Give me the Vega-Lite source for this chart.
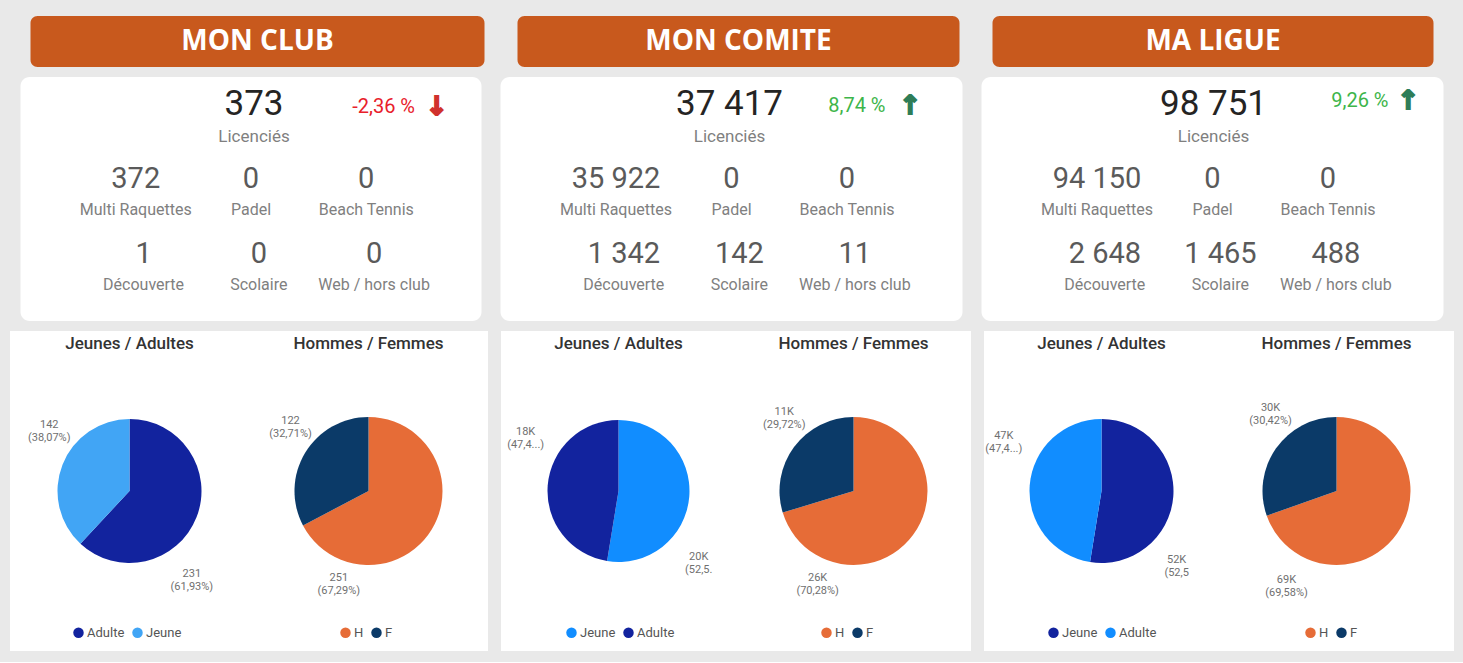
{
  "$schema": "https://vega.github.io/schema/vega-lite/v6.json",
  "background": "#E9E9E9",
  "padding": {"left": 10, "top": 16, "right": 9, "bottom": 11},
  "config": {
    "view": {"stroke": null},
    "font": "Roboto",
    "locale": {"number": {"decimal": ",", "thousands": " ", "grouping": [3], "currency": ["", " €"], "percent": " %", "minus": "-"}},
    "title": {"font": "Roboto", "fontSize": 17, "fontWeight": 500, "color": "#333333", "anchor": "middle", "offset": -22},
    "legend": {"title": null, "orient": "none", "direction": "horizontal", "symbolType": "circle", "symbolSize": 110, "labelFontSize": 13, "labelColor": "#555555", "labelFont": "Roboto", "columnPadding": 6, "labelOffset": 2, "symbolStrokeWidth": 0},
    "text": {"fontSize": 11, "color": "#707070", "lineBreak": "\n"}
  },
  "datasets": {
    "kpi": [
      {"niveau": "MON CLUB", "groupe": "Total", "indicateur": "Licenciés", "valeur": 373, "evolution": -0.0236},
      {"niveau": "MON CLUB", "groupe": "Pratique", "indicateur": "Multi Raquettes", "valeur": 372},
      {"niveau": "MON CLUB", "groupe": "Pratique", "indicateur": "Padel", "valeur": 0},
      {"niveau": "MON CLUB", "groupe": "Pratique", "indicateur": "Beach Tennis", "valeur": 0},
      {"niveau": "MON CLUB", "groupe": "Licence", "indicateur": "Découverte", "valeur": 1},
      {"niveau": "MON CLUB", "groupe": "Licence", "indicateur": "Scolaire", "valeur": 0},
      {"niveau": "MON CLUB", "groupe": "Licence", "indicateur": "Web / hors club", "valeur": 0},
      {"niveau": "MON COMITE", "groupe": "Total", "indicateur": "Licenciés", "valeur": 37417, "evolution": 0.0874},
      {"niveau": "MON COMITE", "groupe": "Pratique", "indicateur": "Multi Raquettes", "valeur": 35922},
      {"niveau": "MON COMITE", "groupe": "Pratique", "indicateur": "Padel", "valeur": 0},
      {"niveau": "MON COMITE", "groupe": "Pratique", "indicateur": "Beach Tennis", "valeur": 0},
      {"niveau": "MON COMITE", "groupe": "Licence", "indicateur": "Découverte", "valeur": 1342},
      {"niveau": "MON COMITE", "groupe": "Licence", "indicateur": "Scolaire", "valeur": 142},
      {"niveau": "MON COMITE", "groupe": "Licence", "indicateur": "Web / hors club", "valeur": 11},
      {"niveau": "MA LIGUE", "groupe": "Total", "indicateur": "Licenciés", "valeur": 98751, "evolution": 0.0926},
      {"niveau": "MA LIGUE", "groupe": "Pratique", "indicateur": "Multi Raquettes", "valeur": 94150},
      {"niveau": "MA LIGUE", "groupe": "Pratique", "indicateur": "Padel", "valeur": 0},
      {"niveau": "MA LIGUE", "groupe": "Pratique", "indicateur": "Beach Tennis", "valeur": 0},
      {"niveau": "MA LIGUE", "groupe": "Licence", "indicateur": "Découverte", "valeur": 2648},
      {"niveau": "MA LIGUE", "groupe": "Licence", "indicateur": "Scolaire", "valeur": 1465},
      {"niveau": "MA LIGUE", "groupe": "Licence", "indicateur": "Web / hors club", "valeur": 488}
    ],
    "repartition": [
      {"niveau": "MON CLUB", "graphique": "Jeunes / Adultes", "categorie": "Adulte", "valeur": 231, "etiquette": "231\n(61,93%)"},
      {"niveau": "MON CLUB", "graphique": "Jeunes / Adultes", "categorie": "Jeune", "valeur": 142, "etiquette": "142\n(38,07%)"},
      {"niveau": "MON CLUB", "graphique": "Hommes / Femmes", "categorie": "H", "valeur": 251, "etiquette": "251\n(67,29%)"},
      {"niveau": "MON CLUB", "graphique": "Hommes / Femmes", "categorie": "F", "valeur": 122, "etiquette": "122\n(32,71%)"},
      {"niveau": "MON COMITE", "graphique": "Jeunes / Adultes", "categorie": "Jeune", "valeur": 19670, "etiquette": "20K\n(52,5."},
      {"niveau": "MON COMITE", "graphique": "Jeunes / Adultes", "categorie": "Adulte", "valeur": 17747, "etiquette": "18K\n(47,4...)"},
      {"niveau": "MON COMITE", "graphique": "Hommes / Femmes", "categorie": "H", "valeur": 26297, "etiquette": "26K\n(70,28%)"},
      {"niveau": "MON COMITE", "graphique": "Hommes / Femmes", "categorie": "F", "valeur": 11120, "etiquette": "11K\n(29,72%)"},
      {"niveau": "MA LIGUE", "graphique": "Jeunes / Adultes", "categorie": "Jeune", "valeur": 51880, "etiquette": "52K\n(52,5"},
      {"niveau": "MA LIGUE", "graphique": "Jeunes / Adultes", "categorie": "Adulte", "valeur": 46871, "etiquette": "47K\n(47,4...)"},
      {"niveau": "MA LIGUE", "graphique": "Hommes / Femmes", "categorie": "H", "valeur": 68711, "etiquette": "69K\n(69,58%)"},
      {"niveau": "MA LIGUE", "graphique": "Hommes / Femmes", "categorie": "F", "valeur": 30040, "etiquette": "30K\n(30,42%)"}
    ]
  },
  "vconcat": [
    {
      "hconcat": [
        {"width": 454, "height": 51, "view": {"fill": "#C8591D", "cornerRadius": 7}, "data": {"name": "kpi"}, "transform": [{"filter": "datum.niveau === 'MON CLUB' && datum.groupe === 'Total'"}], "mark": {"type": "text", "font": "Open Sans", "fontWeight": "bold", "fontSize": 28, "color": "#FFFFFF"}, "encoding": {"text": {"field": "niveau", "type": "nominal"}}},
        {"width": 442, "height": 51, "view": {"fill": "#C8591D", "cornerRadius": 7}, "data": {"name": "kpi"}, "transform": [{"filter": "datum.niveau === 'MON COMITE' && datum.groupe === 'Total'"}], "mark": {"type": "text", "font": "Open Sans", "fontWeight": "bold", "fontSize": 28, "color": "#FFFFFF"}, "encoding": {"text": {"field": "niveau", "type": "nominal"}}},
        {"width": 441, "height": 51, "view": {"fill": "#C8591D", "cornerRadius": 7}, "data": {"name": "kpi"}, "transform": [{"filter": "datum.niveau === 'MA LIGUE' && datum.groupe === 'Total'"}], "mark": {"type": "text", "font": "Open Sans", "fontWeight": "bold", "fontSize": 28, "color": "#FFFFFF"}, "encoding": {"text": {"field": "niveau", "type": "nominal"}}}
      ],
      "spacing": 33
    },
    {
      "hconcat": [
        {
          "width": 461, "height": 244,
          "view": {"fill": "#FFFFFF", "cornerRadius": 9},
          "data": {"name": "kpi"},
          "transform": [{"filter": "datum.niveau === 'MON CLUB'"}],
          "encoding": {"y": {"field": "groupe", "type": "nominal", "scale": {"type": "point", "domain": ["Total", "Pratique", "Licence"], "padding": 0.627, "align": 0.287}, "axis": null}},
          "layer": [
            {"transform": [{"filter": "datum.groupe === 'Total'"}], "mark": {"type": "text", "fontSize": 35, "color": "#252423", "dx": 3}, "encoding": {"text": {"field": "valeur", "type": "quantitative", "format": ",d"}}},
            {"transform": [{"filter": "datum.groupe === 'Total'"}], "mark": {"type": "text", "fontSize": 17, "color": "#7F7F7F", "dy": 33, "dx": 3}, "encoding": {"text": {"field": "indicateur", "type": "nominal"}}},
            {"transform": [{"filter": "datum.groupe === 'Total'"}], "mark": {"type": "text", "fontSize": 20, "align": "right", "dx": 164, "dy": 3}, "encoding": {"text": {"field": "evolution", "type": "quantitative", "format": ".2%"}, "color": {"condition": {"test": "datum.evolution < 0", "value": "#E8202A"}, "value": "#3DB54A"}}},
            {"transform": [{"filter": "datum.groupe === 'Total'"}], "mark": {"type": "text", "fontSize": 26, "font": "DejaVu Sans", "fontWeight": "bold", "strokeWidth": 2, "dx": 186, "dy": 3}, "encoding": {"text": {"condition": {"test": "datum.evolution < 0", "value": "↓"}, "value": "↑"}, "color": {"condition": {"test": "datum.evolution < 0", "value": "#D0312D"}, "value": "#2F7D57"}, "stroke": {"condition": {"test": "datum.evolution < 0", "value": "#D0312D"}, "value": "#2F7D57"}}},
            {"transform": [{"filter": "datum.groupe === 'Pratique'"}], "mark": {"type": "text", "fontSize": 29, "color": "#5A5A5A"}, "encoding": {"x": {"field": "indicateur", "type": "nominal", "sort": null, "scale": {"type": "point", "padding": 1.095}, "axis": null}, "text": {"field": "valeur", "type": "quantitative", "format": ",d"}}},
            {"transform": [{"filter": "datum.groupe === 'Pratique'"}], "mark": {"type": "text", "fontSize": 16, "color": "#808080", "dy": 31}, "encoding": {"x": {"field": "indicateur", "type": "nominal", "sort": null, "scale": {"type": "point", "padding": 1.095}, "axis": null}, "text": {"field": "indicateur", "type": "nominal"}}},
            {"transform": [{"filter": "datum.groupe === 'Licence'"}], "mark": {"type": "text", "fontSize": 29, "color": "#5A5A5A"}, "encoding": {"x": {"field": "indicateur", "type": "nominal", "sort": null, "scale": {"type": "point", "padding": 1.1745, "align": 0.534}, "axis": null}, "text": {"field": "valeur", "type": "quantitative", "format": ",d"}}},
            {"transform": [{"filter": "datum.groupe === 'Licence'"}], "mark": {"type": "text", "fontSize": 16, "color": "#808080", "dy": 31}, "encoding": {"x": {"field": "indicateur", "type": "nominal", "sort": null, "scale": {"type": "point", "padding": 1.1745, "align": 0.534}, "axis": null}, "text": {"field": "indicateur", "type": "nominal"}}}
          ],
          "resolve": {"scale": {"x": "independent", "color": "independent", "stroke": "independent"}}
        },
        {
          "width": 462, "height": 244,
          "view": {"fill": "#FFFFFF", "cornerRadius": 9},
          "data": {"name": "kpi"},
          "transform": [{"filter": "datum.niveau === 'MON COMITE'"}],
          "encoding": {"y": {"field": "groupe", "type": "nominal", "scale": {"type": "point", "domain": ["Total", "Pratique", "Licence"], "padding": 0.627, "align": 0.287}, "axis": null}},
          "layer": [
            {"transform": [{"filter": "datum.groupe === 'Total'"}], "mark": {"type": "text", "fontSize": 35, "color": "#252423", "dx": -2}, "encoding": {"text": {"field": "valeur", "type": "quantitative", "format": ",d"}}},
            {"transform": [{"filter": "datum.groupe === 'Total'"}], "mark": {"type": "text", "fontSize": 17, "color": "#7F7F7F", "dy": 33, "dx": -2}, "encoding": {"text": {"field": "indicateur", "type": "nominal"}}},
            {"transform": [{"filter": "datum.groupe === 'Total'"}], "mark": {"type": "text", "fontSize": 20, "align": "right", "dx": 154, "dy": 2}, "encoding": {"text": {"field": "evolution", "type": "quantitative", "format": ".2%"}, "color": {"condition": {"test": "datum.evolution < 0", "value": "#E8202A"}, "value": "#3DB54A"}}},
            {"transform": [{"filter": "datum.groupe === 'Total'"}], "mark": {"type": "text", "fontSize": 26, "font": "DejaVu Sans", "fontWeight": "bold", "strokeWidth": 2, "dx": 179, "dy": 2}, "encoding": {"text": {"condition": {"test": "datum.evolution < 0", "value": "↓"}, "value": "↑"}, "color": {"condition": {"test": "datum.evolution < 0", "value": "#D0312D"}, "value": "#2F7D57"}, "stroke": {"condition": {"test": "datum.evolution < 0", "value": "#D0312D"}, "value": "#2F7D57"}}},
            {"transform": [{"filter": "datum.groupe === 'Pratique'"}], "mark": {"type": "text", "fontSize": 29, "color": "#5A5A5A"}, "encoding": {"x": {"field": "indicateur", "type": "nominal", "sort": null, "scale": {"type": "point", "padding": 1.095}, "axis": null}, "text": {"field": "valeur", "type": "quantitative", "format": ",d"}}},
            {"transform": [{"filter": "datum.groupe === 'Pratique'"}], "mark": {"type": "text", "fontSize": 16, "color": "#808080", "dy": 31}, "encoding": {"x": {"field": "indicateur", "type": "nominal", "sort": null, "scale": {"type": "point", "padding": 1.095}, "axis": null}, "text": {"field": "indicateur", "type": "nominal"}}},
            {"transform": [{"filter": "datum.groupe === 'Licence'"}], "mark": {"type": "text", "fontSize": 29, "color": "#5A5A5A"}, "encoding": {"x": {"field": "indicateur", "type": "nominal", "sort": null, "scale": {"type": "point", "padding": 1.1745, "align": 0.534}, "axis": null}, "text": {"field": "valeur", "type": "quantitative", "format": ",d"}}},
            {"transform": [{"filter": "datum.groupe === 'Licence'"}], "mark": {"type": "text", "fontSize": 16, "color": "#808080", "dy": 31}, "encoding": {"x": {"field": "indicateur", "type": "nominal", "sort": null, "scale": {"type": "point", "padding": 1.1745, "align": 0.534}, "axis": null}, "text": {"field": "indicateur", "type": "nominal"}}}
          ],
          "resolve": {"scale": {"x": "independent", "color": "independent", "stroke": "independent"}}
        },
        {
          "width": 462, "height": 244,
          "view": {"fill": "#FFFFFF", "cornerRadius": 9},
          "data": {"name": "kpi"},
          "transform": [{"filter": "datum.niveau === 'MA LIGUE'"}],
          "encoding": {"y": {"field": "groupe", "type": "nominal", "scale": {"type": "point", "domain": ["Total", "Pratique", "Licence"], "padding": 0.627, "align": 0.287}, "axis": null}},
          "layer": [
            {"transform": [{"filter": "datum.groupe === 'Total'"}], "mark": {"type": "text", "fontSize": 35, "color": "#252423", "dx": 1}, "encoding": {"text": {"field": "valeur", "type": "quantitative", "format": ",d"}}},
            {"transform": [{"filter": "datum.groupe === 'Total'"}], "mark": {"type": "text", "fontSize": 17, "color": "#7F7F7F", "dy": 33, "dx": 1}, "encoding": {"text": {"field": "indicateur", "type": "nominal"}}},
            {"transform": [{"filter": "datum.groupe === 'Total'"}], "mark": {"type": "text", "fontSize": 20, "align": "right", "dx": 176, "dy": -3}, "encoding": {"text": {"field": "evolution", "type": "quantitative", "format": ".2%"}, "color": {"condition": {"test": "datum.evolution < 0", "value": "#E8202A"}, "value": "#3DB54A"}}},
            {"transform": [{"filter": "datum.groupe === 'Total'"}], "mark": {"type": "text", "fontSize": 26, "font": "DejaVu Sans", "fontWeight": "bold", "strokeWidth": 2, "dx": 196, "dy": -3}, "encoding": {"text": {"condition": {"test": "datum.evolution < 0", "value": "↓"}, "value": "↑"}, "color": {"condition": {"test": "datum.evolution < 0", "value": "#D0312D"}, "value": "#2F7D57"}, "stroke": {"condition": {"test": "datum.evolution < 0", "value": "#D0312D"}, "value": "#2F7D57"}}},
            {"transform": [{"filter": "datum.groupe === 'Pratique'"}], "mark": {"type": "text", "fontSize": 29, "color": "#5A5A5A"}, "encoding": {"x": {"field": "indicateur", "type": "nominal", "sort": null, "scale": {"type": "point", "padding": 1.095}, "axis": null}, "text": {"field": "valeur", "type": "quantitative", "format": ",d"}}},
            {"transform": [{"filter": "datum.groupe === 'Pratique'"}], "mark": {"type": "text", "fontSize": 16, "color": "#808080", "dy": 31}, "encoding": {"x": {"field": "indicateur", "type": "nominal", "sort": null, "scale": {"type": "point", "padding": 1.095}, "axis": null}, "text": {"field": "indicateur", "type": "nominal"}}},
            {"transform": [{"filter": "datum.groupe === 'Licence'"}], "mark": {"type": "text", "fontSize": 29, "color": "#5A5A5A"}, "encoding": {"x": {"field": "indicateur", "type": "nominal", "sort": null, "scale": {"type": "point", "padding": 1.1745, "align": 0.534}, "axis": null}, "text": {"field": "valeur", "type": "quantitative", "format": ",d"}}},
            {"transform": [{"filter": "datum.groupe === 'Licence'"}], "mark": {"type": "text", "fontSize": 16, "color": "#808080", "dy": 31}, "encoding": {"x": {"field": "indicateur", "type": "nominal", "sort": null, "scale": {"type": "point", "padding": 1.1745, "align": 0.534}, "axis": null}, "text": {"field": "indicateur", "type": "nominal"}}}
          ],
          "resolve": {"scale": {"x": "independent", "color": "independent", "stroke": "independent"}}
        }
      ],
      "spacing": 19,
      "resolve": {"scale": {"x": "independent", "y": "independent", "color": "independent", "stroke": "independent"}}
    },
    {
      "hconcat": [
        {
          "hconcat": [
            {
              "width": 239, "height": 320, "view": {"fill": "#FFFFFF"},
              "title": "Jeunes / Adultes",
              "data": {"name": "repartition"},
              "transform": [{"filter": "datum.niveau === 'MON CLUB' && datum.graphique === 'Jeunes / Adultes'"}],
              "encoding": {"theta": {"field": "valeur", "type": "quantitative", "stack": true}, "order": {"field": "valeur", "sort": "descending"}, "detail": {"field": "categorie", "type": "nominal"}},
              "layer": [
                {"mark": {"type": "arc", "radius": 72}, "encoding": {"color": {"field": "categorie", "type": "nominal", "scale": {"domain": ["Adulte", "Jeune"], "range": ["#12239E", "#41A5F5"]}, "legend": {"legendX": 62, "legendY": 295}}}},
                {"mark": {"type": "text", "radius": 104, "thetaOffset": 0.553}, "encoding": {"text": {"condition": {"test": "datum.categorie === 'Adulte'", "field": "etiquette", "type": "nominal"}, "value": ""}}},
                {"mark": {"type": "text", "radius": 104, "thetaOffset": 0.314}, "encoding": {"text": {"condition": {"test": "datum.categorie === 'Jeune'", "field": "etiquette", "type": "nominal"}, "value": ""}}}
              ]
            },
            {
              "width": 239, "height": 320, "view": {"fill": "#FFFFFF"},
              "title": "Hommes / Femmes",
              "data": {"name": "repartition"},
              "transform": [{"filter": "datum.niveau === 'MON CLUB' && datum.graphique === 'Hommes / Femmes'"}],
              "encoding": {"theta": {"field": "valeur", "type": "quantitative", "stack": true}, "order": {"field": "valeur", "sort": "descending"}, "detail": {"field": "categorie", "type": "nominal"}},
              "layer": [
                {"mark": {"type": "arc", "radius": 74}, "encoding": {"color": {"field": "categorie", "type": "nominal", "scale": {"domain": ["H", "F"], "range": ["#E66C37", "#0B3A68"]}, "legend": {"legendX": 90, "legendY": 295}}}},
                {"mark": {"type": "text", "radius": 92, "thetaOffset": 1.356}, "encoding": {"text": {"condition": {"test": "datum.categorie === 'H'", "field": "etiquette", "type": "nominal"}, "value": ""}}},
                {"mark": {"type": "text", "radius": 105, "thetaOffset": 0.19}, "encoding": {"text": {"condition": {"test": "datum.categorie === 'F'", "field": "etiquette", "type": "nominal"}, "value": ""}}}
              ]
            }
          ],
          "spacing": 0,
          "resolve": {"scale": {"theta": "independent", "color": "independent"}, "legend": {"color": "independent"}}
        },
        {
          "hconcat": [
            {
              "width": 235, "height": 320, "view": {"fill": "#FFFFFF"},
              "title": "Jeunes / Adultes",
              "data": {"name": "repartition"},
              "transform": [{"filter": "datum.niveau === 'MON COMITE' && datum.graphique === 'Jeunes / Adultes'"}],
              "encoding": {"theta": {"field": "valeur", "type": "quantitative", "stack": true}, "order": {"field": "valeur", "sort": "descending"}, "detail": {"field": "categorie", "type": "nominal"}},
              "layer": [
                {"mark": {"type": "arc", "radius": 71}, "encoding": {"color": {"field": "categorie", "type": "nominal", "scale": {"domain": ["Jeune", "Adulte"], "range": ["#118DFF", "#12239E"]}, "legend": {"legendX": 64, "legendY": 295}}}},
                {"mark": {"type": "text", "radius": 104, "thetaOffset": 0.609}, "encoding": {"text": {"condition": {"test": "datum.categorie === 'Jeune'", "field": "etiquette", "type": "nominal"}, "value": ""}}},
                {"mark": {"type": "text", "radius": 110, "thetaOffset": 0.485}, "encoding": {"text": {"condition": {"test": "datum.categorie === 'Adulte'", "field": "etiquette", "type": "nominal"}, "value": ""}}}
              ]
            },
            {
              "width": 235, "height": 320, "view": {"fill": "#FFFFFF"},
              "title": "Hommes / Femmes",
              "data": {"name": "repartition"},
              "transform": [{"filter": "datum.niveau === 'MON COMITE' && datum.graphique === 'Hommes / Femmes'"}],
              "encoding": {"theta": {"field": "valeur", "type": "quantitative", "stack": true}, "order": {"field": "valeur", "sort": "descending"}, "detail": {"field": "categorie", "type": "nominal"}},
              "layer": [
                {"mark": {"type": "arc", "radius": 74}, "encoding": {"color": {"field": "categorie", "type": "nominal", "scale": {"domain": ["H", "F"], "range": ["#E66C37", "#0B3A68"]}, "legend": {"legendX": 84, "legendY": 295}}}},
                {"mark": {"type": "text", "radius": 94, "thetaOffset": 1.325}, "encoding": {"text": {"condition": {"test": "datum.categorie === 'H'", "field": "etiquette", "type": "nominal"}, "value": ""}}},
                {"mark": {"type": "text", "radius": 105, "thetaOffset": 0.213}, "encoding": {"text": {"condition": {"test": "datum.categorie === 'F'", "field": "etiquette", "type": "nominal"}, "value": ""}}}
              ]
            }
          ],
          "spacing": 0,
          "resolve": {"scale": {"theta": "independent", "color": "independent"}, "legend": {"color": "independent"}}
        },
        {
          "hconcat": [
            {
              "width": 235, "height": 320, "view": {"fill": "#FFFFFF"},
              "title": "Jeunes / Adultes",
              "data": {"name": "repartition"},
              "transform": [{"filter": "datum.niveau === 'MA LIGUE' && datum.graphique === 'Jeunes / Adultes'"}],
              "encoding": {"theta": {"field": "valeur", "type": "quantitative", "stack": true}, "order": {"field": "valeur", "sort": "descending"}, "detail": {"field": "categorie", "type": "nominal"}},
              "layer": [
                {"mark": {"type": "arc", "radius": 72}, "encoding": {"color": {"field": "categorie", "type": "nominal", "scale": {"domain": ["Jeune", "Adulte"], "range": ["#12239E", "#118DFF"]}, "legend": {"legendX": 63, "legendY": 295}}}},
                {"mark": {"type": "text", "radius": 102, "thetaOffset": 0.663}, "encoding": {"text": {"condition": {"test": "datum.categorie === 'Jeune'", "field": "etiquette", "type": "nominal"}, "value": ""}}},
                {"mark": {"type": "text", "radius": 112, "thetaOffset": 0.431}, "encoding": {"text": {"condition": {"test": "datum.categorie === 'Adulte'", "field": "etiquette", "type": "nominal"}, "value": ""}}}
              ]
            },
            {
              "width": 235, "height": 320, "view": {"fill": "#FFFFFF"},
              "title": "Hommes / Femmes",
              "data": {"name": "repartition"},
              "transform": [{"filter": "datum.niveau === 'MA LIGUE' && datum.graphique === 'Hommes / Femmes'"}],
              "encoding": {"theta": {"field": "valeur", "type": "quantitative", "stack": true}, "order": {"field": "valeur", "sort": "descending"}, "detail": {"field": "categorie", "type": "nominal"}},
              "layer": [
                {"mark": {"type": "arc", "radius": 74}, "encoding": {"color": {"field": "categorie", "type": "nominal", "scale": {"domain": ["H", "F"], "range": ["#E66C37", "#0B3A68"]}, "legend": {"legendX": 85, "legendY": 295}}}},
                {"mark": {"type": "text", "radius": 102, "thetaOffset": 1.468}, "encoding": {"text": {"condition": {"test": "datum.categorie === 'H'", "field": "etiquette", "type": "nominal"}, "value": ""}}},
                {"mark": {"type": "text", "radius": 106, "thetaOffset": 0.284}, "encoding": {"text": {"condition": {"test": "datum.categorie === 'F'", "field": "etiquette", "type": "nominal"}, "value": ""}}}
              ]
            }
          ],
          "spacing": 0,
          "resolve": {"scale": {"theta": "independent", "color": "independent"}, "legend": {"color": "independent"}}
        }
      ],
      "spacing": 13,
      "resolve": {"scale": {"theta": "independent", "color": "independent"}, "legend": {"color": "independent"}}
    }
  ],
  "spacing": 10,
  "center": true,
  "resolve": {"scale": {"x": "independent", "y": "independent", "theta": "independent", "color": "independent", "stroke": "independent"}, "legend": {"color": "independent"}}
}
